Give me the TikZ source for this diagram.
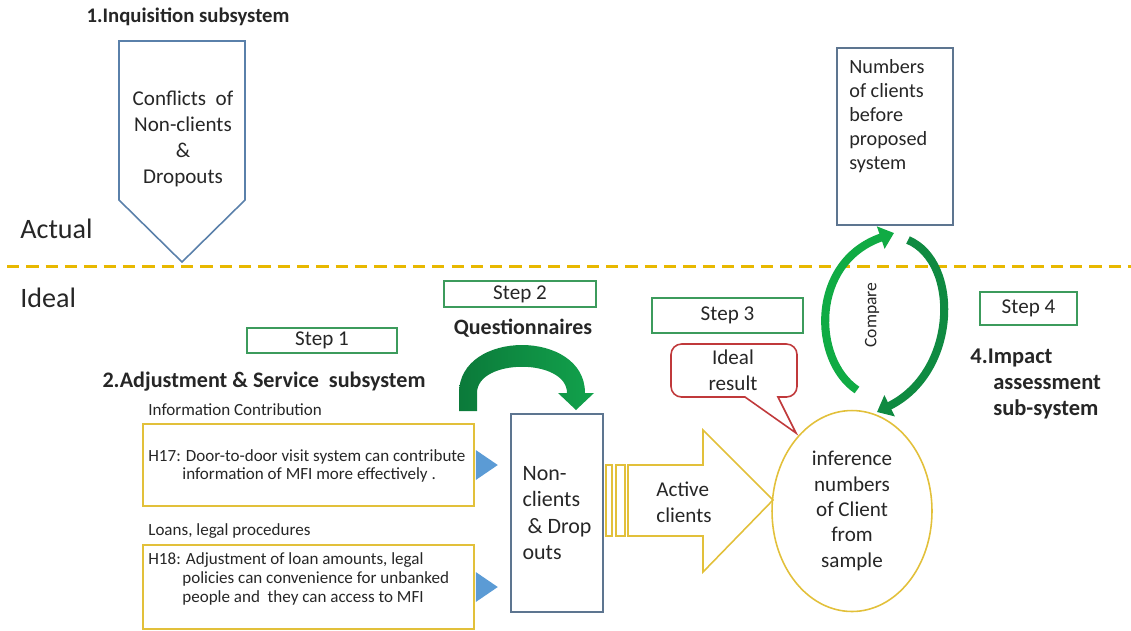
\documentclass[tikz,border=0pt]{standalone}
\usepackage{fontspec}
\setmainfont{Carlito}
\usetikzlibrary{arrows.meta}
\usetikzlibrary{calc,positioning}
\usetikzlibrary{shapes.geometric}

\definecolor{slate}{HTML}{5D7590}
\definecolor{steel}{HTML}{5A80AA}
\definecolor{gold}{HTML}{E2C03A}
\definecolor{dashgold}{HTML}{E8B800}
\definecolor{stepgreen}{HTML}{3C9B5C}
\definecolor{callred}{HTML}{C0393B}
\definecolor{tri}{HTML}{5B9BD5}
\definecolor{darkg}{HTML}{0B7A3A}
\definecolor{lightg}{HTML}{12A24C}

\tikzset{
  stepbox/.style={draw=stepgreen, line width=1.1pt, inner sep=0pt, font=\fontsize{12}{14}\selectfont},
  head/.style={font=\bfseries\fontsize{12.8}{14.8}\selectfont, inner sep=0pt},
  txt/.style={font=\fontsize{12}{14.8}\selectfont, align=center, inner sep=0pt},
  small/.style={font=\fontsize{9.7}{10.6}\selectfont, align=left, inner sep=0pt},
  goldbox/.style={draw=gold, line width=0.9pt, inner sep=0pt},
  slatebox/.style={draw=slate, line width=0.9pt, inner sep=0pt},
  comparr/.style={line width=4.6pt, -{Triangle[length=8pt,width=13pt]}}
}

\begin{document}
\begin{tikzpicture}[x=0.02cm, y=-0.02cm, >=Stealth, every node/.style={text=black!85}]
    \useasboundingbox (0,0) rectangle (1131,630);

    % actual / ideal
    \draw[dashgold, line width=1.7pt, dash pattern=on 7pt off 4pt] (7,266) -- (1131,266);
    \node[font=\fontsize{16}{18}\selectfont, anchor=west, inner sep=0pt] (act) at (20,229) {Actual};
    \node[font=\fontsize{16}{18}\selectfont, anchor=west, inner sep=0pt] (ide) at (20,298) {Ideal};

    % 1. inquisition
    \node[head, font=\bfseries\fontsize{11.8}{13}\selectfont] (inq) at (188,17) {1.Inquisition subsystem};
    \draw[steel, line width=0.9pt] (119,41) -- (245,41) -- (245,200) -- (182,262) -- (119,200) -- cycle;
    \node[txt] (confl) at (183,139) {Conflicts~~of\\Non-clients\\\&\\Dropouts};

    % steps
    \node[stepbox, minimum width=3cm, minimum height=0.5cm] (s1) at (322,340.5) {Step 1};
    \node[stepbox, minimum width=3.04cm, minimum height=0.52cm] (s2) at (520,294) {Step 2};
    \node[stepbox, minimum width=3.02cm, minimum height=0.7cm] (s3) at (727.5,315.5) {Step 3};
    \node[stepbox, minimum width=1.94cm, minimum height=0.66cm] (s4) at (1028.5,308.5) {Step 4};
    \node[head, font=\bfseries\fontsize{12.5}{13}\selectfont] (quest) at (523,328) {Questionnaires};

    % 2. adjustment & service
    \node[head, font=\bfseries\fontsize{12.6}{13}\selectfont] (adj) at (264,382) {2.Adjustment \& Service~~subsystem};
    \node[small, anchor=west] (info) at (148,410) {Information Contribution};
    \node[goldbox, minimum width=6.62cm, minimum height=1.64cm] (h17box) at (308.5,465) {};
    \node[small, anchor=west] (h17) at (148,466) {H17: Door-to-door visit system can contribute\\\hspace*{0.68cm}information of MFI more effectively .};
    \node[small, anchor=west] (loan) at (148,531) {Loans, legal procedures};
    \node[goldbox, minimum width=6.62cm, minimum height=1.68cm] (h18box) at (308.5,587) {};
    \node[small, anchor=west] (h18) at (148,579) {H18: Adjustment of loan amounts, legal\\\hspace*{0.68cm}policies can convenience for unbanked\\\hspace*{0.68cm}people and~~they can access to MFI};
    \fill[tri] ($(h17box.east)+(1,-15)$) -- ++(22,15) -- ++(-22,15) -- cycle;
    \fill[tri] ($(h18box.east)+(1,-15)$) -- ++(22,15) -- ++(-22,15) -- cycle;

    \node[slatebox, minimum width=1.84cm, minimum height=3.96cm, txt, align=left, font=\fontsize{12.5}{15}\selectfont] (nonc) at (557,513) {Non-\\clients\\\hspace*{0.1cm}\& Drop\\outs};

    % questionnaire arrow
    \shade[left color=darkg, right color=lightg] (459,411) -- (459,393) .. controls (459,329) and (585,329) .. (585,393) -- (594,393) -- (576,410) -- (558,393) -- (567,393) .. controls (567,358) and (477,358) .. (477,393) -- (477,411) -- cycle;

    % active clients
    \draw[gold, line width=0.9pt] (606,465) rectangle (612,536);
    \draw[gold, line width=0.9pt] (616,465) rectangle (625,536);
    \draw[gold, line width=0.9pt] (628,465) -- (703,465) -- (703,430) -- (773,500) -- (703,572) -- (703,536) -- (628,536) -- cycle;
    \node[txt, align=left] (actcl) at (684,502) {Active\\clients};

    % 3. inference
    \node[ellipse, draw=gold, line width=0.9pt, minimum width=3.2cm, minimum height=4.02cm, txt, font=\fontsize{12}{14.4}\selectfont] (infer) at (852,511) {inference\\numbers\\of Client\\from\\sample};
    \draw[callred, line width=0.9pt] (796,433) -- (745,397) [rounded corners=6pt] -- (671,397) -- (671,344) -- (797,344) -- (797,397) [sharp corners] -- (778,397) -- cycle;
    \node[txt] (ideal) at (733,370) {Ideal\\result};

    % 4. impact
    \node[slatebox, minimum width=2.32cm, minimum height=3.54cm] (numb) at (895,136.5) {};
    \node[txt, align=left, font=\fontsize{11.5}{13.7}\selectfont, anchor=west] (numtxt) at (849,116) {Numbers\\of clients\\before\\proposed\\system};
    \draw[comparr, color=lightg!90!green] (857,390) .. controls (812,360) and (810,262) .. (894,233);
    \draw[comparr, color=lightg!85!black] (908,240) .. controls (960,262) and (958,372) .. (877,412);
    \node[rotate=90, font=\fontsize{10}{12}\selectfont] (comp) at (872,315) {Compare};
    \node[head, align=left, anchor=west] (imp) at (970,384) {4.Impact\\\hspace*{0.46cm}assessment\\\hspace*{0.46cm}sub-system};
\end{tikzpicture}
\end{document}
